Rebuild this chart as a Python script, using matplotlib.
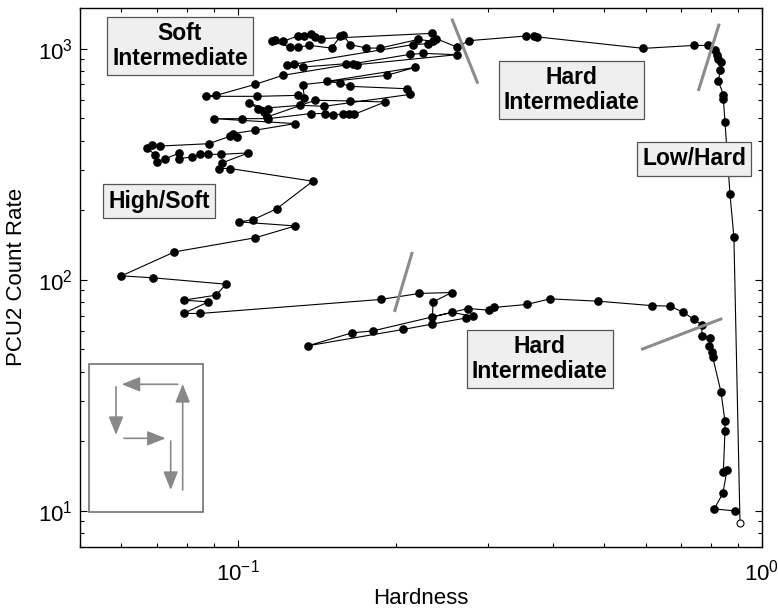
import numpy as np
import matplotlib
matplotlib.use("Agg")
import matplotlib.pyplot as plt
import matplotlib.ticker as mticker
from matplotlib.patches import Rectangle, FancyArrowPatch

plt.rcParams["font.family"] = ["Liberation Sans", "DejaVu Sans"]

# hardness / PCU2 count rate along the outburst track (first point = start, open circle)
hardness = [
    0.908, 0.884, 0.869, 0.850, 0.844, 0.844, 0.826, 0.832, 0.834, 0.826,
    0.822, 0.814, 0.788, 0.743, 0.594, 0.372, 0.367, 0.354, 0.276, 0.262,
    0.239, 0.235, 0.144, 0.1405, 0.138, 0.134, 0.130, 0.122, 0.118, 0.116,
    0.126, 0.1305, 0.137, 0.151, 0.157, 0.159, 0.164, 0.176, 0.187, 0.221,
    0.236, 0.231, 0.216, 0.124, 0.128, 0.133, 0.161, 0.166, 0.169, 0.262,
    0.226, 0.213, 0.122, 0.108, 0.091, 0.087, 0.109, 0.130, 0.134, 0.133,
    0.1925, 0.218, 0.148, 0.157, 0.164, 0.210, 0.213, 0.146, 0.1315, 0.1095,
    0.105, 0.114, 0.112, 0.1136, 0.1405, 0.164, 0.191, 0.1667, 0.1633, 0.159,
    0.152, 0.147, 0.138, 0.1144, 0.1018, 0.090, 0.1287, 0.108, 0.098, 0.0996,
    0.0967, 0.088, 0.0711, 0.0686, 0.0671, 0.0696, 0.070, 0.0727, 0.0771, 0.0771,
    0.0818, 0.0848, 0.0879, 0.0929, 0.1048, 0.0932, 0.0919, 0.0967, 0.139, 0.1187,
    0.107, 0.1007, 0.1287, 0.108, 0.0757, 0.060, 0.0689, 0.095, 0.0909, 0.0788,
    0.0879, 0.0788, 0.0848, 0.1875, 0.222, 0.256, 0.236, 0.235, 0.256, 0.281,
    0.273, 0.2345, 0.207, 0.136, 0.165, 0.181, 0.275, 0.301, 0.308, 0.356,
    0.394, 0.487, 0.617, 0.668, 0.707, 0.742, 0.768, 0.768, 0.796, 0.794,
    0.803, 0.805, 0.835, 0.850, 0.850, 0.844, 0.858, 0.842, 0.811, 0.888,
]
rate = [
    8.9, 153, 234, 482, 608, 633, 722, 806, 875, 905,
    936, 983, 1033, 1033, 1003, 1125, 1130, 1134, 1083, 1016,
    1105, 1165, 1105, 1122, 1161, 1134, 1134, 1075, 1086, 1075,
    1016, 1016, 1033, 1006, 1134, 1142, 1041, 1006, 1006, 1097,
    1075, 1051, 1041, 847, 861, 833, 861, 855, 853, 942,
    954, 945, 767, 701, 628, 622, 622, 628, 612, 699,
    767, 830, 722, 708, 687, 671, 634, 563, 569, 550,
    582, 547, 532, 506, 598, 594, 588, 520, 520, 520,
    518, 524, 524, 498, 498, 498, 474, 444, 429, 415,
    418, 388, 379, 382, 373, 346, 323, 334, 352, 334,
    340, 349, 349, 349, 354, 320, 303, 303, 267, 203,
    182, 178, 171, 152, 132, 104, 102, 95.7, 85.8, 81.6,
    80.3, 71.5, 71.5, 82.2, 87.3, 88.1, 80.3, 69.1, 72.2, 69.6,
    68.4, 64.3, 61.0, 51.8, 58.9, 60.1, 75.1, 73.9, 75.9, 78.2,
    82.7, 80.8, 77.3, 76.9, 72.4, 67.4, 63.6, 57.0, 56.1, 51.6,
    48.6, 46.5, 32.8, 24.5, 22.2, 14.8, 15.1, 11.9, 10.2, 10.0,
]

# grey state-transition markers (end points)
trans_h = [(0.256, 0.287), (0.829, 0.756), (0.2153, 0.199), (0.588, 0.840)]
trans_r = [(1348, 706), (1283, 656), (132, 72.6), (49.9, 68.0)]

# state labels (axes fraction)
state_names = ["Soft\nIntermediate", "High/Soft", "Hard\nIntermediate", "Low/Hard", "Hard\nIntermediate"]
state_pos = [(0.1466, 0.9295), (0.1158, 0.6417), (0.7207, 0.8483), (0.9003, 0.7197), (0.674, 0.3488)]

# schematic arrows in the inset (axes fraction)
inset_arrows = [
    ((0.1433, 0.3015), (0.0611, 0.3015)),
    ((0.0528, 0.2970), (0.0528, 0.2074)),
    ((0.0645, 0.2012), (0.1257, 0.2012)),
    ((0.1330, 0.1962), (0.1330, 0.1053)),
    ((0.1506, 0.1053), (0.1506, 0.3020)),
]

fig = plt.figure(figsize=(7.78, 6.09), dpi=100)
ax = fig.add_axes([0.1028, 0.1023, 0.8766, 0.8846])
ax.set_xscale("log")
ax.set_yscale("log")

ax.plot(hardness, rate, color="black", linewidth=0.8, zorder=3)
ax.plot(hardness[1:], rate[1:], "o", color="black", markersize=5.2, zorder=4)
ax.plot(hardness[:1], rate[:1], "o", mfc="white", mec="black", markersize=5, mew=0.8, zorder=4)

for th, tr in zip(trans_h, trans_r):
    ax.plot(th, tr, color="#8c8c8c", linewidth=2.2, solid_capstyle="butt", zorder=5)

for name, (fx, fy) in zip(state_names, state_pos):
    ax.text(fx, fy, name, transform=ax.transAxes, ha="center", va="center",
            fontsize=16.5, fontweight="bold", linespacing=1.12, zorder=6,
            bbox=dict(boxstyle="square,pad=0.22", fc="#efefef", ec="#555555", lw=0.9))

ax.add_patch(Rectangle((0.0136, 0.065), 0.1672, 0.274, transform=ax.transAxes,
                       fill=False, ec="#666666", lw=1.1, zorder=6))
for (x0, y0), (x1, y1) in inset_arrows:
    ax.add_patch(FancyArrowPatch((x0, y0), (x1, y1), transform=ax.transAxes,
                                 arrowstyle="-|>,head_length=7,head_width=2.8",
                                 mutation_scale=1.6, color="#888888", lw=1.2,
                                 shrinkA=0, shrinkB=0, zorder=6))

ax.set_xlim(0.05, 1.0)
ax.set_ylim(7, 1500)
ax.xaxis.set_minor_formatter(mticker.NullFormatter())
ax.yaxis.set_minor_formatter(mticker.NullFormatter())
ax.tick_params(which="both", direction="in", top=True, right=True, labelsize=16)
ax.tick_params(which="major", length=5, width=0.8)
ax.tick_params(which="minor", length=3, width=0.8)
ax.tick_params(axis="x", which="major", pad=9)
ax.tick_params(axis="y", which="major", pad=5)
for sp in ax.spines.values():
    sp.set_linewidth(1.0)

ax.set_xlabel("Hardness", fontsize=16)
ax.set_ylabel("PCU2 Count Rate", fontsize=16)
ax.xaxis.set_label_coords(0.5, -0.077)
ax.yaxis.set_label_coords(-0.077, 0.5)

plt.savefig("out.png", dpi=100)
plt.close()
